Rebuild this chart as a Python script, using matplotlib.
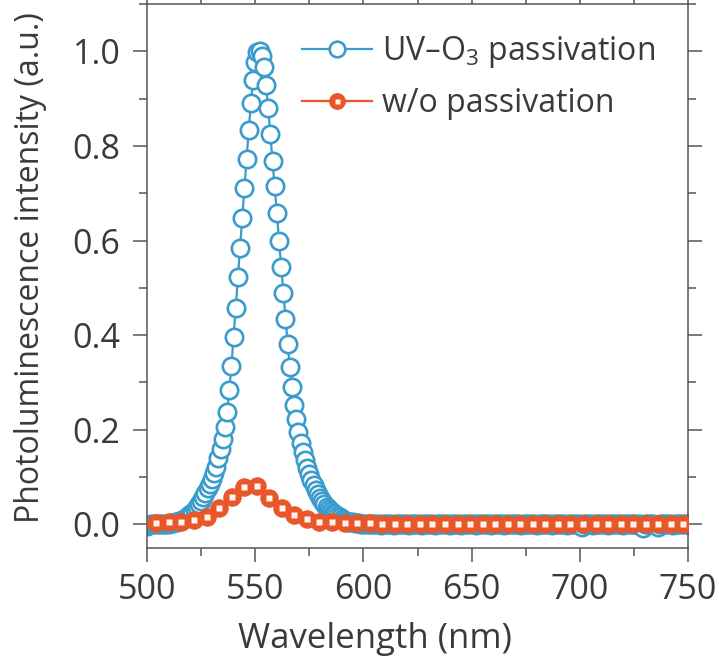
"""PL spectra: UV-O3 passivated vs untreated film."""

import matplotlib

matplotlib.use("Agg")
import matplotlib.pyplot as plt
from matplotlib.ticker import MultipleLocator

plt.rcParams["font.family"] = ["Open Sans", "DejaVu Sans"]
plt.rcParams["mathtext.default"] = "regular"

BLUE = "#3a9ccc"
ORANGE = "#e8562a"
TEXT = "#3a3a3a"

# UV-O3 passivation, 1 nm steps from 500 to 750 nm
uv_wavelength = list(range(500, 751))
uv_intensity = [
    -0.004, -0.002, 0.000, 0.001, 0.000, 0.001, 0.001, 0.000, 0.001, 0.001,  # 500
    0.001, 0.002, 0.003, 0.004, 0.005, 0.007, 0.009, 0.011, 0.014, 0.017,  # 510
    0.021, 0.025, 0.030, 0.036, 0.042, 0.049, 0.057, 0.066, 0.076, 0.086,  # 520
    0.096, 0.108, 0.122, 0.140, 0.160, 0.180, 0.205, 0.238, 0.283, 0.335,  # 530
    0.395, 0.458, 0.522, 0.585, 0.648, 0.710, 0.772, 0.833, 0.890, 0.940,  # 540
    0.978, 0.998, 1.000, 0.990, 0.966, 0.928, 0.880, 0.825, 0.768, 0.715,  # 550
    0.658, 0.600, 0.545, 0.490, 0.435, 0.382, 0.333, 0.290, 0.253, 0.222,  # 560
    0.196, 0.173, 0.153, 0.136, 0.120, 0.106, 0.094, 0.083, 0.073, 0.064,  # 570
    0.056, 0.049, 0.043, 0.037, 0.032, 0.028, 0.024, 0.021, 0.018, 0.015,  # 580
    0.012, 0.010, 0.008, 0.006, 0.005, 0.004, 0.003, 0.002, 0.002, 0.001,  # 590
    0.001, 0.000, 0.001, 0.000, 0.000, 0.001, 0.000, 0.000, -0.001, 0.000,  # 600
    0.000, 0.000, 0.001, 0.000, -0.001, 0.000, 0.000, 0.001, 0.000, 0.000,  # 610
    0.000, -0.001, 0.000, 0.000, 0.001, 0.000, 0.000, -0.001, 0.000, 0.001,  # 620
    0.000, 0.000, 0.000, -0.001, 0.000, 0.000, 0.001, 0.000, 0.000, 0.000,  # 630
    -0.001, 0.000, 0.000, 0.001, 0.000, -0.001, 0.000, 0.000, 0.000, 0.001,  # 640
    0.000, 0.000, -0.001, 0.000, 0.000, 0.000, 0.001, 0.000, 0.000, -0.001,  # 650
    0.000, 0.000, 0.001, 0.000, 0.000, -0.001, 0.000, 0.000, 0.000, 0.000,  # 660
    0.001, 0.000, 0.000, -0.001, 0.000, 0.000, 0.000, 0.001, 0.000, 0.000,  # 670
    -0.001, 0.000, 0.000, 0.000, 0.001, 0.000, 0.000, -0.001, 0.000, 0.000,  # 680
    0.000, 0.001, 0.000, 0.000, -0.001, 0.000, 0.000, 0.000, 0.000, 0.001,  # 690
    0.000, -0.006, 0.000, 0.000, 0.001, 0.000, -0.001, 0.000, 0.000, 0.000,  # 700
    0.001, 0.000, 0.000, -0.001, 0.000, 0.000, 0.000, 0.001, 0.000, 0.000,  # 710
    -0.001, 0.000, 0.000, 0.000, 0.001, 0.000, 0.000, -0.001, 0.000, -0.007,  # 720
    0.000, 0.000, 0.001, 0.000, 0.000, -0.001, -0.006, 0.000, 0.000, 0.000,  # 730
    0.001, 0.000, 0.000, -0.001, 0.000, 0.000, 0.000, 0.001, 0.000, 0.000,  # 740
    0.000,  # 750
]

# without passivation, coarser sampling
wo_wavelength = [
    504.3, 510.1, 515.9, 521.7, 527.5, 533.3, 539.1, 544.9, 550.7, 556.5,
    562.3, 568.1, 573.9, 579.7, 585.5, 591.3, 597.1, 602.9, 608.7, 614.5,
    620.3, 626.1, 631.9, 637.7, 643.5, 649.3, 655.1, 660.9, 666.7, 672.5,
    678.3, 684.1, 689.9, 695.7, 701.5, 707.3, 713.1, 718.9, 724.7, 730.5,
    736.3, 742.1, 747.9,
]
wo_intensity = [
    0.002, 0.004, 0.004, 0.010, 0.016, 0.034, 0.057, 0.079, 0.081, 0.056,
    0.034, 0.019, 0.012, 0.006, 0.004, 0.003, 0.002, 0.002, 0.001, 0.001,
    0.001, 0.001, 0.001, 0.001, 0.001, 0.001, 0.001, 0.001, 0.001, 0.001,
    0.001, 0.001, 0.001, 0.001, 0.001, 0.001, 0.001, 0.001, 0.001, 0.001,
    0.001, 0.001, 0.001,
]

x_ticks = [500, 550, 600, 650, 700, 750]
y_ticks = [0.0, 0.2, 0.4, 0.6, 0.8, 1.0]


def main() -> None:
    fig = plt.figure(figsize=(7.19, 6.68), dpi=100)
    ax = fig.add_axes([147 / 719, 120 / 668, 541 / 719, 544 / 668])

    uv_line, = ax.plot(
        uv_wavelength, uv_intensity, color=BLUE, lw=1.6, marker="o",
        ms=12.5, mfc="white", mec=BLUE, mew=1.9, zorder=2,
    )
    wo_line, = ax.plot(
        wo_wavelength, wo_intensity, color=ORANGE, lw=1.6, marker="o",
        ms=12.5, mfc=ORANGE, mec=ORANGE, mew=0.8, zorder=3,
    )
    # little white highlight in the middle of each ball
    wo_dot, = ax.plot(
        wo_wavelength, wo_intensity, ls="none", marker="s", ms=4,
        mfc="#fff4ee", mec="none", zorder=4,
    )

    ax.set_xlim(500, 750)
    ax.set_ylim(-0.05, 1.1)
    ax.set_xticks(x_ticks)
    ax.set_yticks(y_ticks)
    ax.set_yticklabels([f"{v:.1f}" for v in y_ticks])
    ax.xaxis.set_minor_locator(MultipleLocator(25))
    ax.yaxis.set_minor_locator(MultipleLocator(0.1))

    ax.tick_params(which="both", direction="out", top=True, right=True,
                   labeltop=False, labelright=False, color="#555555",
                   width=1.1, labelsize=24.5, labelcolor=TEXT)
    ax.tick_params(which="major", length=10)
    ax.tick_params(which="minor", length=5.5)
    ax.tick_params(axis="y", which="major", pad=9)
    ax.tick_params(axis="x", which="major", pad=8)
    for spine in ax.spines.values():
        spine.set_color("#555555")
        spine.set_linewidth(1.1)

    ax.set_xlabel("Wavelength (nm)", fontsize=25, color=TEXT, va="center")
    ax.xaxis.set_label_coords(0.421, -0.168)
    ax.set_ylabel("Photoluminescence intensity (a.u.)", fontsize=23,
                  color=TEXT, va="center")
    ax.yaxis.set_label_coords(-0.216, 0.516)

    ax.legend(
        [uv_line, (wo_line, wo_dot)],
        ["UV\u2013O$_3$ passivation", "w/o passivation"],
        loc="upper left", bbox_to_anchor=(0.2865, 0.945), frameon=False,
        fontsize=23, handlelength=2.2, handletextpad=0.3, borderpad=0,
        borderaxespad=0, labelspacing=0.55, labelcolor=TEXT, markerscale=0.9,
    )

    fig.savefig("out.png", dpi=100)
    plt.close(fig)


if __name__ == "__main__":
    main()
